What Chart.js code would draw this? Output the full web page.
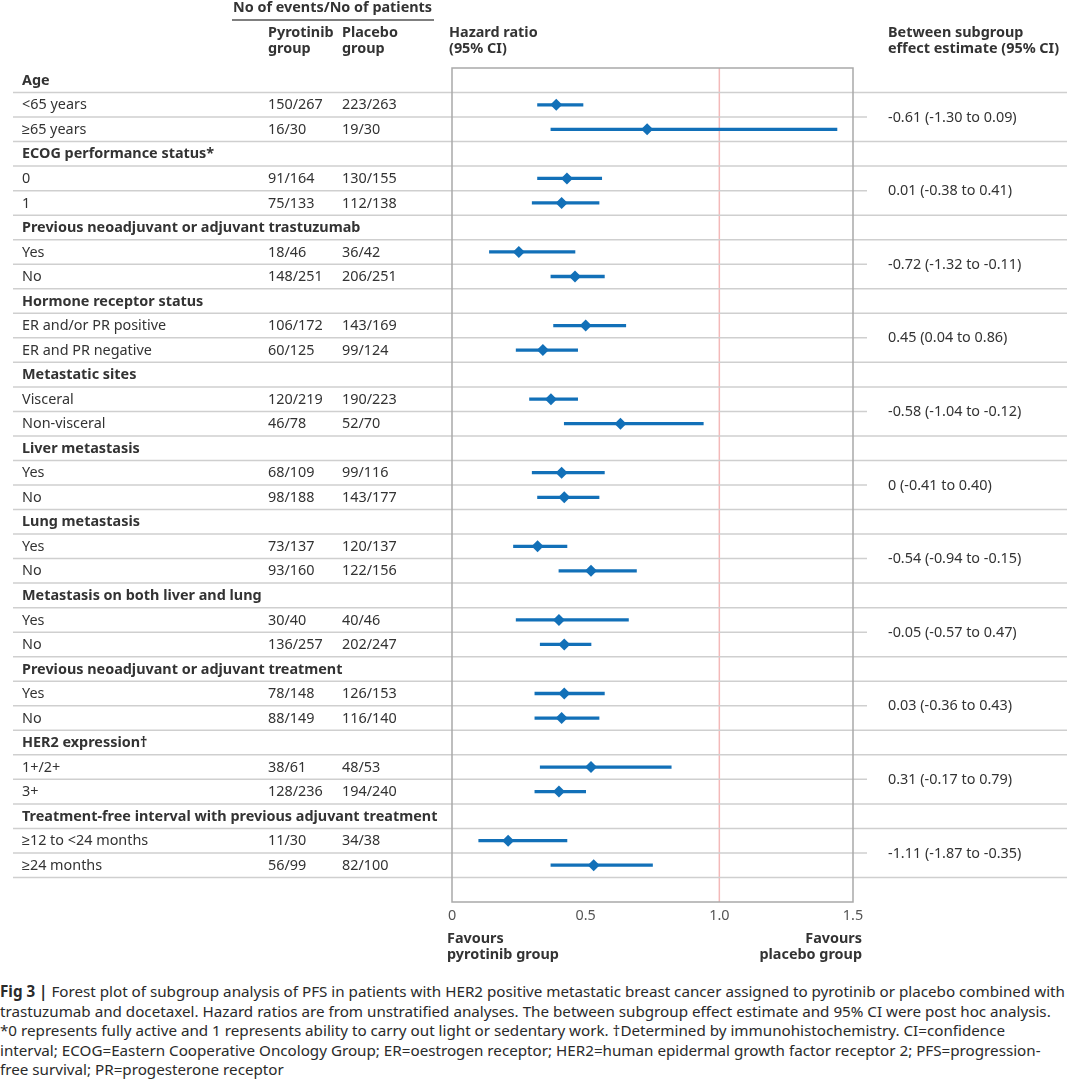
<!DOCTYPE html>
<html>
<head>
<meta charset="utf-8">
<script src="https://cdn.jsdelivr.net/npm/chart.js@4.4.0/dist/chart.umd.min.js"></script>
<style>
  body { margin: 0; background: #fff; width: 1080px; height: 1080px; overflow: hidden; font-family: "Noto Sans", sans-serif; }
  #wrap { position: absolute; left: 0; top: 0; width: 1080px; height: 970px; }
  #caption { position: absolute; left: 0; top: 982px; width: 1080px; font-size: 15.2px; line-height: 19.6px; color: #2a2a2a; white-space: nowrap; }
  #caption b { font-weight: 700; }
</style>
</head>
<body>
<div id="wrap"><canvas id="forest"></canvas></div>
<div id="caption"></div>
<script>
// subgroup headers and the between subgroup estimate of each
var groupNames = ['Age', 'ECOG performance status*', 'Previous neoadjuvant or adjuvant trastuzumab',
  'Hormone receptor status', 'Metastatic sites', 'Liver metastasis', 'Lung metastasis',
  'Metastasis on both liver and lung', 'Previous neoadjuvant or adjuvant treatment',
  'HER2 expression\u2020', 'Treatment-free interval with previous adjuvant treatment'];
var betweenEstimates = ['-0.61 (-1.30 to 0.09)', '0.01 (-0.38 to 0.41)', '-0.72 (-1.32 to -0.11)',
  '0.45 (0.04 to 0.86)', '-0.58 (-1.04 to -0.12)', '0 (-0.41 to 0.40)', '-0.54 (-0.94 to -0.15)',
  '-0.05 (-0.57 to 0.47)', '0.03 (-0.36 to 0.43)', '0.31 (-0.17 to 0.79)', '-1.11 (-1.87 to -0.35)'];

// two subgroups per header
var subgroupNames = ['<65 years', '\u226565 years', '0', '1', 'Yes', 'No',
  'ER and/or PR positive', 'ER and PR negative', 'Visceral', 'Non-visceral',
  'Yes', 'No', 'Yes', 'No', 'Yes', 'No', 'Yes', 'No', '1+/2+', '3+',
  '\u226512 to <24 months', '\u226524 months'];
var pyrotinibEvents = ['150/267', '16/30', '91/164', '75/133', '18/46', '148/251', '106/172', '60/125',
  '120/219', '46/78', '68/109', '98/188', '73/137', '93/160', '30/40', '136/257', '78/148', '88/149',
  '38/61', '128/236', '11/30', '56/99'];
var placeboEvents = ['223/263', '19/30', '130/155', '112/138', '36/42', '206/251', '143/169', '99/124',
  '190/223', '52/70', '99/116', '143/177', '120/137', '122/156', '40/46', '202/247', '126/153', '116/140',
  '48/53', '194/240', '34/38', '82/100'];
var hazardRatio = [0.39, 0.73, 0.43, 0.41, 0.25, 0.46, 0.50, 0.34, 0.37, 0.63, 0.41, 0.42,
  0.32, 0.52, 0.40, 0.42, 0.42, 0.41, 0.52, 0.40, 0.21, 0.53];
var ciLower = [0.32, 0.37, 0.32, 0.30, 0.14, 0.37, 0.38, 0.24, 0.29, 0.42, 0.30, 0.32,
  0.23, 0.40, 0.24, 0.33, 0.31, 0.31, 0.33, 0.31, 0.10, 0.37];
var ciUpper = [0.49, 1.44, 0.56, 0.55, 0.46, 0.57, 0.65, 0.47, 0.47, 0.94, 0.57, 0.55,
  0.43, 0.69, 0.66, 0.52, 0.57, 0.55, 0.82, 0.50, 0.43, 0.75];

var xTicks = [0, 0.5, 1.0, 1.5];

var captionLines = [
  '<b>Fig 3 |</b> Forest plot of subgroup analysis of PFS in patients with HER2 positive metastatic breast cancer assigned to pyrotinib or placebo combined with',
  'trastuzumab and docetaxel. Hazard ratios are from unstratified analyses. The between subgroup effect estimate and 95% CI were post hoc analysis.',
  '*0 represents fully active and 1 represents ability to carry out light or sedentary work. \u2020Determined by immunohistochemistry. CI=confidence',
  'interval; ECOG=Eastern Cooperative Oncology Group; ER=oestrogen receptor; HER2=human epidermal growth factor receptor 2; PFS=progression-',
  'free survival; PR=progesterone receptor'
];
document.getElementById('caption').innerHTML = captionLines.join('<br>');

// build one row per line of the table (header + its two subgroups), plus a blank row at the end
var rows = [];
groupNames.forEach(function (g, gi) {
  rows.push({ label: g, header: true, estimate: betweenEstimates[gi] });
  for (var k = 0; k < 2; k++) {
    var i = gi * 2 + k;
    rows.push({ label: subgroupNames[i], header: false, pyr: pyrotinibEvents[i], pla: placeboEvents[i], idx: i });
  }
});
rows.push({ label: '', header: true, blank: true });

var labels = rows.map(function (r) { return r.label; });
var ciData = rows.map(function (r) { return r.header ? null : [ciLower[r.idx], ciUpper[r.idx]]; });
var hrData = rows.map(function (r) { return r.header ? null : hazardRatio[r.idx]; });

var TEXT = '#333333';
var BLUE = '#1270b8';
var FONT = '"Noto Sans", sans-serif';
var FS = '14.4px ';

var tablePlugin = {
  id: 'forestTable',
  beforeDatasetsDraw: function (chart) {
    var ctx = chart.ctx, a = chart.chartArea, y = chart.scales.y, x = chart.scales.x;
    ctx.save();
    // red line of no effect
    var x1 = x.getPixelForValue(1.0);
    ctx.strokeStyle = '#f3b9b9';
    ctx.lineWidth = 1.5;
    ctx.beginPath(); ctx.moveTo(x1, a.top); ctx.lineTo(x1, a.bottom); ctx.stroke();
    // row separators
    ctx.strokeStyle = '#cfcfcf';
    ctx.lineWidth = 1.5;
    for (var b = 1; b < rows.length; b++) {
      var yy = (y.getPixelForValue(b - 1) + y.getPixelForValue(b)) / 2;
      var inner = !rows[b - 1].header && !rows[b].header;
      ctx.beginPath();
      ctx.moveTo(13, yy);
      ctx.lineTo(inner ? 867 : 1067, yy);
      ctx.stroke();
    }
    // plot box
    ctx.strokeStyle = '#a9a9a9';
    ctx.lineWidth = 1.5;
    ctx.strokeRect(a.left, a.top, a.right - a.left, a.bottom - a.top);
    ctx.restore();
  },
  afterDraw: function (chart) {
    var ctx = chart.ctx, y = chart.scales.y;
    ctx.save();
    ctx.fillStyle = TEXT;
    ctx.textBaseline = 'middle';
    ctx.textAlign = 'left';

    // column headers
    ctx.font = 'bold ' + FS + FONT;
    ctx.fillText('No of events/No of patients', 233, 8);
    ctx.fillText('Pyrotinib', 268, 33);
    ctx.fillText('group', 268, 49);
    ctx.fillText('Placebo', 342, 33);
    ctx.fillText('group', 342, 49);
    ctx.fillText('Hazard ratio', 449, 33);
    ctx.fillText('(95% CI)', 449, 49);
    ctx.fillText('Between subgroup', 888, 33);
    ctx.fillText('effect estimate (95% CI)', 888, 49);
    ctx.strokeStyle = '#555555';
    ctx.lineWidth = 1.5;
    ctx.beginPath(); ctx.moveTo(232, 20); ctx.lineTo(434, 20); ctx.stroke();

    rows.forEach(function (r, i) {
      if (r.blank) return;
      var yy = y.getPixelForValue(i) + 0.5;
      if (r.header) {
        ctx.font = 'bold ' + FS + FONT;
        ctx.fillText(r.label, 22, yy);
        // between subgroup estimate sits between the two subgroup rows
        var ym = (y.getPixelForValue(i + 1) + y.getPixelForValue(i + 2)) / 2 + 0.5;
        ctx.font = FS + FONT;
        ctx.fillText(r.estimate, 888, ym);
      } else {
        ctx.font = FS + FONT;
        ctx.fillText(r.label, 22, yy);
        ctx.fillText(r.pyr, 268, yy);
        ctx.fillText(r.pla, 342, yy);
      }
    });

    // favours labels
    ctx.font = 'bold ' + FS + FONT;
    ctx.fillText('Favours', 447, 939);
    ctx.fillText('pyrotinib group', 447, 955);
    ctx.textAlign = 'right';
    ctx.fillText('Favours', 862, 939);
    ctx.fillText('placebo group', 862, 955);
    ctx.restore();
  }
};

var ctx = document.getElementById('forest');
var chart = new Chart(ctx, {
  type: 'bar',
  data: {
    labels: labels,
    datasets: [{
      label: '95% CI',
      data: ciData,
      indexAxis: 'y',
      backgroundColor: BLUE,
      barThickness: 2.6,
      order: 2
    }, {
      type: 'line',
      label: 'Hazard ratio',
      data: hrData,
      indexAxis: 'y',
      showLine: false,
      pointStyle: 'rectRot',
      pointRadius: 6,
      pointBackgroundColor: BLUE,
      pointBorderColor: BLUE,
      pointBorderWidth: 0,
      order: 1
    }]
  },
  options: {
    indexAxis: 'y',
    responsive: true,
    maintainAspectRatio: false,
    animation: false,
    layout: { padding: { left: 452, right: 227, top: 68, bottom: 38 } },
    plugins: { legend: { display: false }, tooltip: { enabled: false } },
    scales: {
      x: {
        type: 'linear',
        min: 0,
        max: 1.5,
        afterBuildTicks: function (s) { s.ticks = xTicks.map(function (v) { return { value: v }; }); },
        afterFit: function (s) { s.height = 30; },
        grid: { display: false, drawTicks: false },
        border: { display: false },
        ticks: {
          padding: 5,
          color: '#555555',
          font: { family: FONT, size: 14.4 },
          callback: function (v) { return v === 0 ? '0' : v.toFixed(1); }
        }
      },
      y: {
        type: 'category',
        display: false,
        offset: true,
        grid: { display: false }
      }
    }
  },
  plugins: [tablePlugin]
});
</script>
</body>
</html>
